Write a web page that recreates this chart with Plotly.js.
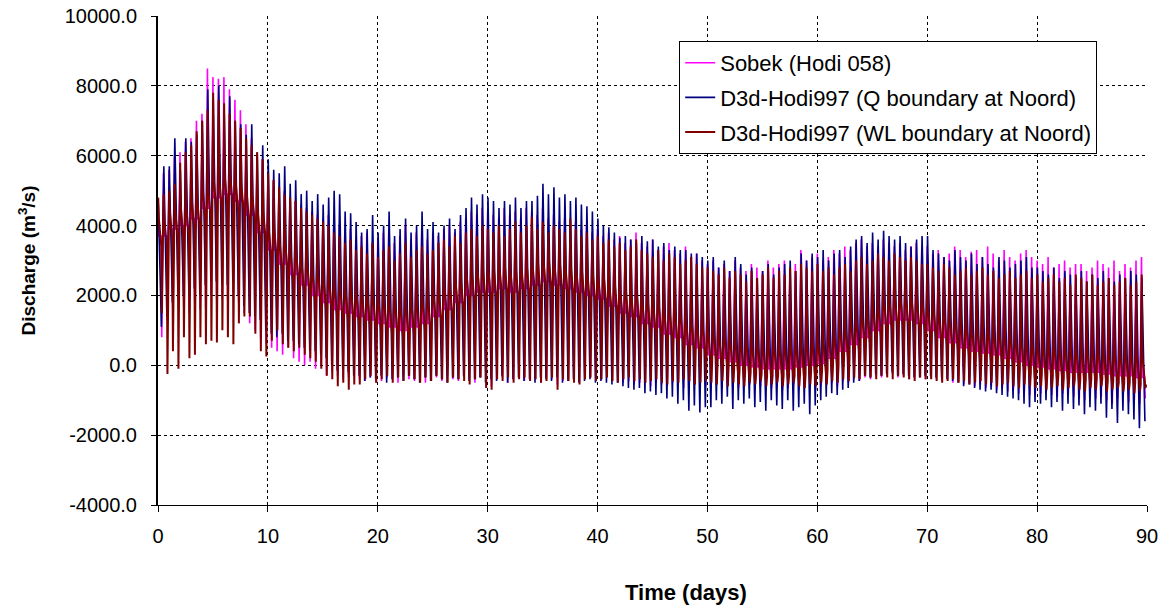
<!DOCTYPE html>
<html>
<head>
<meta charset="utf-8">
<script src="https://cdn.plot.ly/plotly-3.0.1.min.js"></script>
<style>html,body{margin:0;padding:0;background:#fff;}#chart{width:1176px;height:609px;}</style>
</head>
<body>
<div id="chart"></div>
<script>
// Series names
const seriesNames = ["Sobek (Hodi 058)", "D3d-Hodi997 (Q boundary at Noord)", "D3d-Hodi997 (WL boundary at Noord)"];

// Tidal peaks / troughs, two tides per day (days 0..89)
// Sobek (Hodi 058)
const sobekHigh = [
 4500,5500, 5600,6000, 6100,6400, 6500,7000, 7200,8500, 8250,8200, 8250,7900, 7600,7300, 6900,6500, 6000,5900,
 5500,5300, 5100,5000, 4800,4700, 4600,4500, 4400,4300, 4200,4300, 4100,4000, 3800,3900, 3600,3700, 3800,3500,
 3600,3800, 3900,3500, 3700,4000, 3600,3800, 3900,3600, 3800,3700, 3900,4000, 3800,4100, 4200,4400, 4300,4500,
 4400,4300, 4200,4500, 4300,4400, 4200,4500, 4400,4300, 4500,4200, 4300,4100, 4200,4000, 4100,3900, 4000,3800,
 3900,3700, 3800,3600, 3700,3500, 3600,3800, 3500,3400, 3600,3300, 3400,3500, 3300,3200, 3400,3100, 3200,3000,
 2900,3000, 2800,2900, 2700,3000, 2800,2700, 2900,2800, 2700,3000, 2800,2900, 3000,2800, 2900,3300, 3000,3100,
 3200,3000, 3100,3300, 3200,3400, 3300,3500, 3600,3400, 3500,3400, 3600,3500, 3400,3500, 3300,3400, 3500,3300,
 3400,3200, 3300,3100, 3200,3400, 3300,3100, 3250,3300, 3100,3400, 3200,3000, 3300,3100, 3000,3200, 3300,3100,
 3000,2900, 3100,2800, 2900,3000, 2800,2900, 2900,2700, 2800,3000, 2900,2800, 3000,2700, 2900,2800, 3000,3100
];
const sobekLow = [
 800,1300, 1600,1900, 1700,1500, 1800,1600, 1650,2000, 1900,1900, 1900,2100, 1800,1500, 1200,1000, 800,600,
 500,400, 300,500, 200,100, 0,100, -100,0, -300,-200, -300,-400, -350,-300, -400,-450, -350,-500,
 -450,-350, -400,-500, -300,-400, -450,-350, -500,-400, -350,-450, -300,-400, -450,-350, -400,-500, -350,-300,
 -600,-400, -350,-500, -400,-300, -450,-350, -400,-500, -350,-400, -550,-450, -400,-350, -450,-400, -350,-450,
 -400,-350, -450,-400, -500,-450, -550,-500, -450,-600, -500,-550, -600,-500, -550,-650, -600,-550, -650,-600,
 -600,-550, -650,-600, -500,-650, -600,-550, -700,-600, -550,-650, -600,-700, -650,-550, -700,-600, -650,-700,
 -600,-550, -500,-600, -450,-500, -400,-450, -350,-400, -300,-350, -300,-250, -350,-300, -400,-350, -300,-400,
 -350,-400, -450,-400, -500,-450, -550,-500, -600,-550, -650,-600, -700,-650, -750,-700, -800,-750, -850,-800,
 -800,-750, -850,-900, -800,-850, -900,-950, -1000,-850, -950,-900, -1000,-1100, -950,-900, -1050,-1000, -1100,-950
];
// Sobek slack-water level, one per day (days 0..90)
const sobekSlack = [
 3700,3900,4000,4200,4500,4800,4900,4700,4300,3800, 3300,2900,2600,2300,2000,1800,1600,1500,1400,1300,
 1200,1100,1000,1100,1200,1400,1600,1800,2000,2100, 2100,2200,2100,2200,2300,2400,2300,2200,2100,2000,
 1900,1700,1500,1400,1200,1100,900,800,600,500, 300,200,100,0,-50,-100,-100,-100,-50,0,
 50,200,400,600,800,1000,1200,1300,1300,1200, 1000,800,650,500,400,350,300,200,100,0,
 -50,-100,-150,-200,-200,-200,-250,-300,-300,-350, -400
];

// D3d-Hodi997 (Q boundary at Noord)
const qHigh = [
 4600,5700, 5700,6500, 5600,6500, 6400,6600, 7000,7900, 7600,8000, 7200,7700, 7000,6900, 6600,6900, 6100,6300,
 5900,5600, 5500,5700, 5200,5300, 4900,5000, 4700,4900, 4600,4800, 5000,4900, 4400,4350, 4100,3800, 3900,4300,
 3800,4000, 4400,3700, 3900,4200, 3800,4000, 4400,3900, 4100,3800, 4000,4200, 3900,4300, 4500,4800, 4600,4900,
 4800,4700, 4500,4700, 4600,4800, 4500,4700, 4700,4850, 5200,4900, 5100,4800, 4900,4700, 4800,4600, 4550,4400,
 4200,4000, 3950,3800, 3650,3700, 3600,3500, 3700,3550, 3600,3400, 3500,3300, 3400,3300, 3300,3200, 3200,3100,
 3000,3100, 2800,3000, 2700,3100, 2900,2600, 2800,2500, 2700,2900, 2600,2800, 2900,3000, 2700,3200, 3000,3200,
 3100,3300, 3000,3200, 3300,3100, 3400,3600, 3700,3500, 3800,3600, 3850,3700, 3600,3700, 3500,3400, 3600,3700,
 3700,3300, 3200,3100, 3000,3300, 3100,3000, 3200,2900, 3100,2900, 2800,3100, 3000,2800, 2900,3000, 3100,2800,
 2800,2700, 2600,2800, 2500,2700, 2600,2500, 2700,2400, 2600,2500, 2700,2500, 2400,2600, 2500,2700, 2600,2500
];
const qLow = [
 1100,1400, 1800,2100, 2000,2100, 2200,2000, 2300,2400, 2400,2300, 2300,2400, 2000,1700, 1500,1400, 1300,1000,
 900,800, 900,700, 700,600, 500,400, 400,300, 200,0, -150,-100, -200,-300, -300,-450, -350,-400,
 -300,-500, -400,-350, -450,-300, -400,-500, -350,-450, -300,-400, -500,-350, -400,-300, -450,-400, -350,-500,
 -400,-450, -300,-500, -400,-350, -450,-400, -500,-350, -400,-450, -350,-500, -450,-400, -500,-450, -400,-500,
 -450,-500, -550,-500, -600,-650, -700,-650, -800,-750, -850,-800, -950,-900, -1100,-1000, -1300,-1150, -1350,-1200,
 -1200,-1000, -1100,-900, -1250,-1000, -1100,-950, -1200,-1050, -1300,-1000, -1150,-1250, -1000,-1300, -1200,-1100, -1400,-1150,
 -1000,-900, -800,-850, -700,-650, -500,-450, -300,-350, -250,-300, -250,-200, -300,-250, -300,-350, -350,-300,
 -300,-350, -350,-400, -450,-500, -600,-550, -650,-700, -750,-700, -800,-850, -900,-950, -1000,-1100, -1200,-1050,
 -1100,-1000, -1200,-1050, -1300,-1100, -1250,-1150, -1400,-1200, -1300,-1100, -1500,-1250, -1650,-1300, -1400,-1550, -1800,-1600
];

// D3d-Hodi997 (WL boundary at Noord)
const wlHigh = [
 4800,4900, 5000,5200, 5800,6100, 6300,6700, 7000,7300, 7800,7600, 7500,7200, 7000,6800, 6500,6300, 6100,5900,
 5500,5300, 5100,4900, 4800,4700, 4500,4400, 4300,4200, 4100,4000, 3800,3700, 3500,3600, 3300,3400, 3200,3500,
 3100,3300, 3400,3000, 3200,3500, 3100,3300, 3400,3200, 3300,3500, 3600,3400, 3700,3500, 3800,3900, 3700,4000,
 3900,3800, 4000,3700, 3900,4100, 3800,4000, 4250,3900, 4100,3800, 4000,3900, 3800,4200, 3900,3700, 3800,3600,
 3700,3500, 3600,3400, 3500,3300, 3400,3600, 3300,3200, 3100,3300, 3000,3200, 3100,2900, 3000,3100, 2900,2800,
 2800,2700, 2600,2800, 2500,2700, 2600,2400, 2700,2500, 2600,2800, 2500,2700, 2600,2800, 2700,2900, 2800,2700,
 2900,2700, 2800,2600, 2800,2900, 2700,3000, 3100,2900, 3000,3200, 3100,3000, 3200,3100, 3000,3100, 3000,2900,
 2900,2800, 2700,2900, 2800,2600, 2700,2800, 2600,2700, 2800,2600, 2700,2500, 2600,2700, 2500,2600, 2700,2500,
 2600,2400, 2500,2600, 2400,2500, 2300,2600, 2500,2400, 2600,2300, 2400,2500, 2300,2400, 2500,2300, 2400,2600
];
const wlLow = [
 1500,-250, 400,-100, 800,200, 300,800, 600,700, 650,1000, 800,600, 1200,1400, 1400,900, 400,250,
 700,1000, 600,500, 400,500, 300,200, 100,-100, -300,-400, -600,-500, -700,-550, -550,-400, -300,-500,
 -400,-300, -500,-350, -450,-300, -400,-500, -350,-450, -300,-400, -500,-350, -400,-450, -550,-400, -350,-650,
 -700,-400, -450,-350, -500,-400, -350,-450, -400,-500, -450,-350, -700,-400, -450,-500, -550,-400, -350,-450,
 -400,-350, -450,-500, -400,-350, -450,-400, -500,-450, -400,-500, -550,-450, -500,-400, -450,-550, -500,-450,
 -500,-550, -450,-600, -500,-550, -600,-500, -550,-450, -600,-550, -500,-600, -550,-500, -600,-650, -550,-600,
 -500,-550, -450,-500, -400,-450, -350,-400, -300,-350, -400,-300, -350,-400, -300,-350, -400,-450, -350,-400,
 -400,-450, -500,-450, -400,-500, -450,-550, -500,-450, -550,-500, -600,-550, -500,-600, -650,-550, -600,-650,
 -600,-700, -650,-600, -700,-650, -600,-700, -750,-650, -700,-600, -750,-700, -650,-750, -700,-800, -750,-650
];
// WL slack-water band (upper / lower edge), one per day (days 0..90)
const wlSlackTop = [
 4200,4400,4500,4700,5000,5300,5400,5200,4900,4400, 3900,3500,3200,2900,2600,2400,2200,2100,2000,1900,
 1800,1700,1600,1700,1800,2000,2200,2400,2600,2700, 2700,2800,2700,2800,2900,3000,2900,2800,2700,2600,
 2500,2300,2100,2000,1800,1700,1500,1400,1200,1100, 900,800,700,600,550,500,500,500,550,600,
 650,800,1000,1200,1400,1600,1800,1900,1900,1800, 1600,1400,1250,1100,1000,950,900,800,700,600,
 550,500,450,400,400,400,350,300,300,250, 200
];
const wlSlackBottom = [
 3400,3600,3700,3900,4200,4500,4600,4400,4100,3600, 3100,2700,2400,2100,1800,1600,1400,1300,1200,1100,
 1000,900,800,900,1000,1200,1400,1600,1800,1900, 1900,2000,1900,2000,2100,2200,2100,2000,1900,1800,
 1700,1500,1300,1200,1000,900,700,600,400,300, 100,0,-100,-200,-250,-300,-300,-300,-250,-200,
 -150,0,200,400,600,800,1000,1100,1100,1000, 800,600,450,300,200,150,100,0,-100,-200,
 -250,-300,-350,-400,-400,-400,-450,-500,-500,-550, -600
];

// Axis ticks
const xTickVals = [0,10,20,30,40,50,60,70,80,90];
const yTickVals = [-4000,-2000,0,2000,4000,6000,8000,10000];
const yTickText = ["-4000.0","-2000.0","0.0","2000.0","4000.0","6000.0","8000.0","10000.0"];
const xTitle = "Time (days)";
const yTitle = "Discharge (m<sup>3</sup>/s)";

// Build traces: each tide cycle drawn from its peak, slack and trough values
const TIDE = 0.5; // days per tide cycle (sampling of the arrays)
function sobekTrace(){
  const x=[],y=[];
  for(let c=0;c<sobekHigh.length;c++){
    const t=c*TIDE, d=Math.floor(c/2);
    x.push(t, t+0.06, t+0.28, t+0.34);
    y.push(sobekHigh[c], sobekSlack[d], sobekSlack[d], sobekLow[c]);
  }
  return {x,y};
}
function qTrace(){
  const x=[],y=[];
  for(let c=0;c<qHigh.length;c++){
    const t=c*TIDE;
    x.push(t+0.03, t+0.31);
    y.push(qHigh[c], qLow[c]);
  }
  return {x,y};
}
function wlTrace(){
  const x=[],y=[];
  for(let c=0;c<wlHigh.length;c++){
    const t=c*TIDE, d=Math.floor(c/2);
    x.push(t+0.02, t+0.08, t+0.3, t+0.36, t+0.43);
    y.push(wlHigh[c], wlSlackTop[d], wlSlackBottom[d], wlLow[c], wlSlackBottom[d]);
  }
  return {x,y};
}
const s=sobekTrace(), q=qTrace(), w=wlTrace();
const traces = [
  {x:s.x, y:s.y, type:'scatter', mode:'lines', name:seriesNames[0], legendgroup:'a',
   line:{color:'#FF00FF', width:1.6}},
  {x:q.x, y:q.y, type:'scatter', mode:'lines', name:seriesNames[1], legendgroup:'b',
   line:{color:'#000080', width:1.6}},
  {x:w.x, y:w.y, type:'scatter', mode:'lines', name:seriesNames[2], legendgroup:'c',
   line:{color:'#800000', width:2}}
];

const layout = {
  width:1176, height:609,
  margin:{l:158, r:29, t:16, b:104},
  paper_bgcolor:'#fff', plot_bgcolor:'#fff',
  font:{family:'"Liberation Sans", Arial, sans-serif', size:20, color:'#000'},
  showlegend:true,
  legend:{x:0.527, y:0.949, xanchor:'left', yanchor:'top', bgcolor:'#fff',
          bordercolor:'#000', borderwidth:1, font:{size:22}, tracegroupgap:3, traceorder:'grouped'},
  xaxis:{range:[0,90], tickvals:xTickVals, ticks:'outside', ticklen:6, tickcolor:'#000',
         showline:true, linecolor:'#000', linewidth:1, zeroline:false,
         showgrid:true, gridcolor:'#000', griddash:'dot', gridwidth:1,
         tickfont:{size:20}, ticklabelstandoff:7},
  yaxis:{range:[-4000,10000], tickvals:yTickVals, ticktext:yTickText, ticks:'outside', ticklen:5, tickcolor:'#000',
         showline:true, linecolor:'#000', linewidth:2, zeroline:false,
         showgrid:true, gridcolor:'#000', griddash:'dot', gridwidth:1,
         tickfont:{size:20}, ticklabelstandoff:10,
         title:{text:'<b>'+yTitle+'</b>', font:{size:19}, standoff:24}},
  annotations:[{text:'<b>'+xTitle+'</b>', xref:'paper', yref:'paper',
                x:(686-158)/989, y:-(592-505)/489, xanchor:'center', yanchor:'middle',
                showarrow:false, font:{size:22}}]
};
Plotly.newPlot('chart', traces, layout, {displayModeBar:false, staticPlot:true});
</script>
</body>
</html>
